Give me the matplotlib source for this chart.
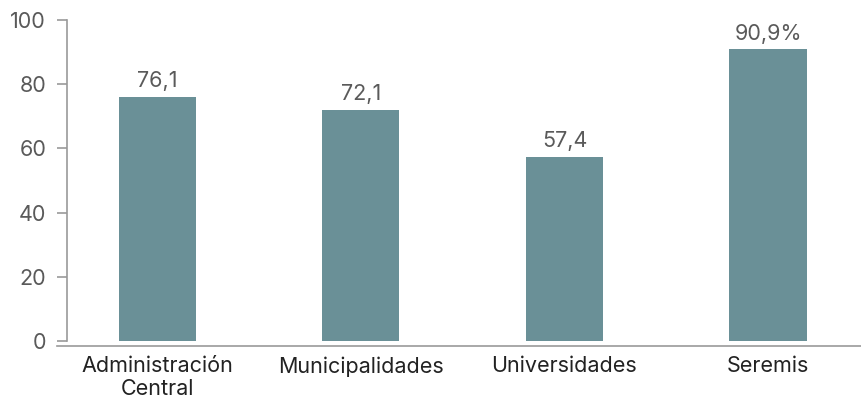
import matplotlib.pyplot as plt

categories = ["Administración\nCentral", "Municipalidades", "Universidades", "Seremis"]
values = [76.1, 72.1, 57.4, 90.9]
value_labels = ["76,1", "72,1", "57,4", "90,9%"]
yticks = [0, 20, 40, 60, 80, 100]

plt.rcParams['font.family'] = ['Inter', 'DejaVu Sans']

fig = plt.figure(figsize=(8.61, 4.03), dpi=100)
ax = fig.add_axes([67/861, 62/403, 794/861, 321/403])

x = range(len(categories))
bars = ax.bar(x, values, width=77/203.5, color="#6a9097")

for b, lab in zip(bars, value_labels):
    ax.annotate(lab, (b.get_x() + b.get_width()/2, b.get_height()),
                xytext=(0, 4), textcoords="offset points",
                ha="center", va="bottom", fontsize=15.5, color="#5a5a5a")

ax.set_xlim(-0.4447, 3.457)
ax.set_ylim(0, 100)
ax.set_yticks(yticks)
ax.set_xticks(list(x))
ax.set_xticklabels(categories, fontsize=15.5, color="#222222", linespacing=1.15)
ax.tick_params(axis="x", length=0, pad=11)
ax.tick_params(axis="y", length=7, width=1.2, color="#999999", pad=8,
               labelsize=15.5, labelcolor="#5a5a5a")

for s in ["top", "right", "bottom"]:
    ax.spines[s].set_visible(False)
ax.spines["left"].set_color("#999999")
ax.spines["left"].set_linewidth(1.2)

# horizontal base line slightly below zero
ax.plot([-10/794, 1], [-5/321, -5/321], transform=ax.transAxes,
        color="#999999", lw=1.2, clip_on=False)

fig.savefig("out.png", dpi=100)
